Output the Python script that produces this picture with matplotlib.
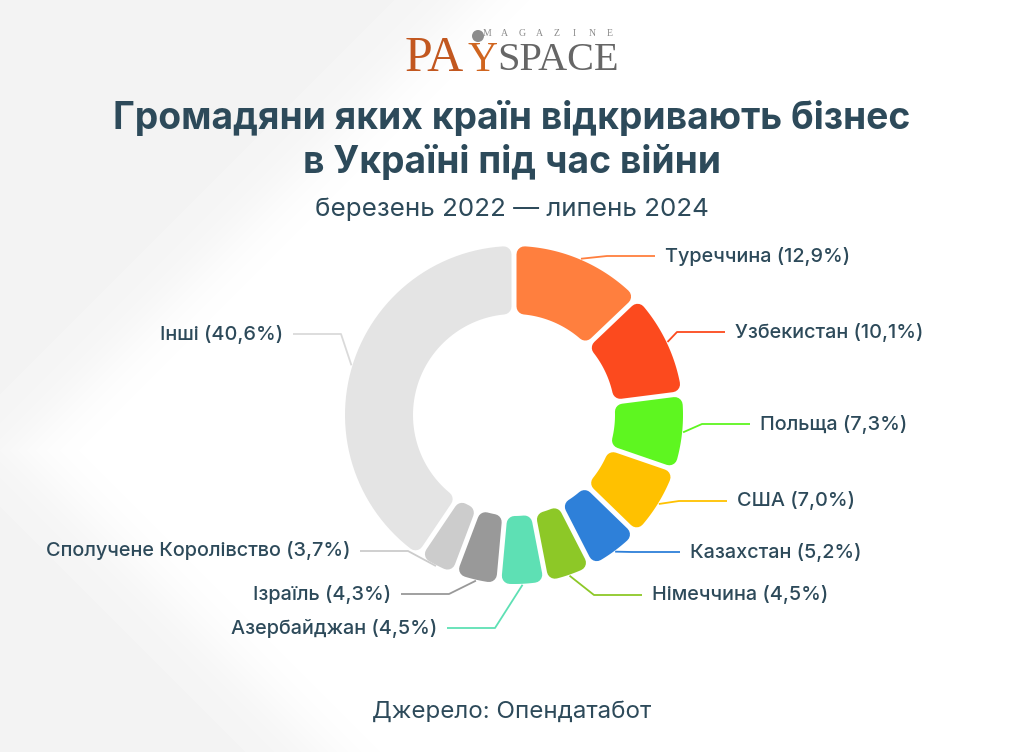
import numpy as np
import matplotlib.pyplot as plt
from matplotlib.patches import Polygon, Circle

# data
countries = ['Туреччина', 'Узбекистан', 'Польща', 'США', 'Казахстан', 'Німеччина',
             'Азербайджан', 'Ізраїль', 'Сполучене Королівство', 'Інші']
shares = [12.9, 10.1, 7.3, 7.0, 5.2, 4.5, 4.5, 4.3, 3.7, 40.6]
share_labels = ['12,9', '10,1', '7,3', '7,0', '5,2', '4,5', '4,5', '4,3', '3,7', '40,6']
colors = ['#FF7F3E', '#FC4A1E', '#5EF620', '#FFC100', '#2E80D9', '#8DC827',
          '#5EE0B4', '#999999', '#CCCCCC', '#E4E4E4']
line_colors = colors[:-1] + ['#DADADA']

title = 'Громадяни яких країн відкривають бізнес\nв Україні під час війни'
subtitle = 'березень 2022 — липень 2024'
source = 'Джерело: Опендатабот'

# layout (pixel coords, y down)
cx, cy = 514, 415
r_out, r_in = 169, 101
corner = 8
gap = 5
# label anchor: (x, y, side) ; side 1 = text right of line, -1 = left
label_pos = [(665, 256, 1), (735, 332, 1), (760, 424, 1), (737, 501, 1), (690, 552, 1),
             (652, 595, 1), (437, 628, -1), (391, 594, -1), (350, 551, -1), (283, 334, -1)]
txt_color = '#2D4A5A'
plt.rcParams['font.family'] = ['Inter', 'DejaVu Sans']

fig = plt.figure(figsize=(10.24, 7.52), dpi=100)
ax = fig.add_axes([0, 0, 1, 1])
ax.set_xlim(0, 1024)
ax.set_ylim(752, 0)
ax.axis('off')

# soft background
yy, xx = np.mgrid[0:752, 0:1024]
g1 = 1 / (1 + np.exp(((xx + yy) - 470) / 25))
g2 = 1 / (1 + np.exp(((xx - yy) + 430) / 25))
bg = 1 - 0.045 * np.maximum(g1, g2)
ax.imshow(bg, extent=(0, 1024, 752, 0), cmap='gray', vmin=0, vmax=1, zorder=0)
ax.set_aspect('auto')


def pt(ang, rad):
    return cx + rad * np.sin(ang), cy - rad * np.cos(ang)


total = sum(shares)
start = 0.0
for i, v in enumerate(shares):
    t0 = start / total * 2 * np.pi
    t1 = (start + v) / total * 2 * np.pi
    start += v
    ro = r_out - corner
    ri = r_in + corner
    d = gap / 2 + corner
    ao = np.linspace(t0 + np.arcsin(d / ro), t1 - np.arcsin(d / ro), 60)
    ai = np.linspace(t1 - np.arcsin(d / ri), t0 + np.arcsin(d / ri), 60)
    xo, yo = pt(ao, ro)
    xi, yi = pt(ai, ri)
    verts = np.column_stack([np.concatenate([xo, xi]), np.concatenate([yo, yi])])
    ax.add_patch(Polygon(verts, closed=True, fc=colors[i], ec=colors[i],
                         lw=2 * corner * 0.72, joinstyle='round', zorder=2))

    # connector + label
    mid = (t0 + t1) / 2
    sx, sy = pt(mid, r_out + 1)
    lx, ly, side = label_pos[i]
    ex = lx - 10 * side
    bx = ex - 48 * side
    ax.plot([sx, bx, ex], [sy, ly, ly], color=line_colors[i], lw=1.3,
            solid_capstyle='butt', zorder=1)
    ax.text(lx, ly, f'{countries[i]} ({share_labels[i]}%)', ha='left' if side > 0 else 'right',
            va='center', fontsize=14.3, fontweight='medium', color=txt_color, zorder=3)

# titles
ax.text(512, 141, title, ha='center', va='center', fontsize=26.8, fontweight='bold',
        color=txt_color, linespacing=1.28)
ax.text(512, 209, subtitle, ha='center', va='center', fontsize=18.7, color=txt_color)
ax.text(512, 712, source, ha='center', va='center', fontsize=17.4, color=txt_color)

# logo
serif = ['Liberation Serif', 'DejaVu Serif']
ax.text(405, 71, 'PA', family=serif, fontsize=36, color='#C2571F', va='baseline')
ax.text(467, 71, 'Y', family=serif, fontsize=30, color='#D0651F', va='baseline')
ax.text(497, 70, 'SPACE', family=serif, fontsize=29, color='#666666', va='baseline')
for k, ch in enumerate('MAGAZINE'):
    ax.text(487 + k * 17.5, 34, ch, family=serif, fontsize=7, color='#8A8A8A',
            ha='center', va='center')
ax.add_patch(Circle((478, 36), 6, fc='#8C8C8C', ec='none', zorder=3))

fig.savefig('out.png', dpi=100)
